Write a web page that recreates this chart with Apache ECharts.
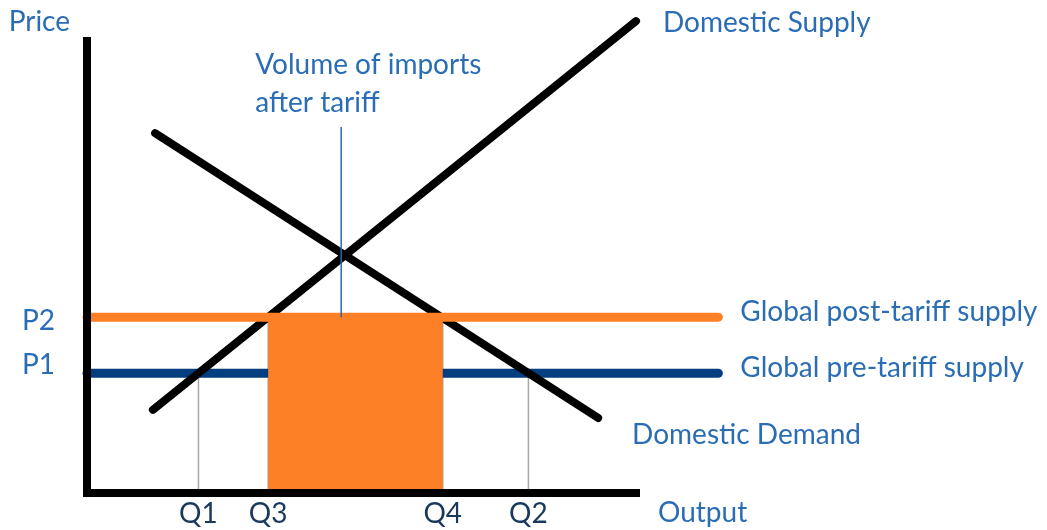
<!DOCTYPE html>
<html>
<head>
<meta charset="utf-8">
<script src="https://cdn.jsdelivr.net/npm/echarts@6/dist/echarts.min.js"></script>
<style>
  html, body { margin: 0; padding: 0; background: #ffffff; }
  #chart { width: 1047px; height: 530px; }
</style>
</head>
<body>
<div id="chart"></div>
<script>
// Price levels (world price before and after the tariff)
const priceNames = ['P1', 'P2'];
const priceValues = [26.5, 38.9];

// Quantities marked on the output axis
const qtyNames = ['Q1', 'Q3', 'Q4', 'Q2'];
const qtyValues = [20.3, 33.0, 64.8, 80.4];
// Price level each quantity is read from
const qtyPriceLevel = ['P1', 'P2', 'P2', 'P1'];

// Domestic curves as [output, price]
const supplyCurve = [[12.0, 18.4], [100.0, 104.4]];
const demandCurve = [[12.4, 79.6], [93.1, 16.6]];

// World supply lines run from the price axis to this output
const worldLineEnd = 115;

// Pointer to the import block: output and the price where it stops
const importsPointerX = 46.3;
const importsPointerTop = 81.0;

// Length of the drawn axes
const outputAxisEnd = 100;
const priceAxisEnd = 100;

// Text
const axisTitles = { price: 'Price', output: 'Output' };
const curveLabels = {
  supply: 'Domestic Supply',
  demand: 'Domestic Demand',
  post: 'Global post-tariff supply',
  pre: 'Global pre-tariff supply',
  imports: 'Volume of imports\nafter tariff'
};

const ORANGE = '#FD7F26';
const NAVY = '#033F80';
const TEXT_BLUE = '#2A6DB5';
const TEXT_DARK = '#18385E';
const FONT = 'Lato';
const FS = 28;

const priceOf = name => priceValues[priceNames.indexOf(name)];
const P1 = priceOf('P1');
const P2 = priceOf('P2');
const Q3 = qtyValues[qtyNames.indexOf('Q3')];
const Q4 = qtyValues[qtyNames.indexOf('Q4')];

function textAt(text, coord, pos, align) {
  return {
    symbol: 'circle',
    symbolSize: 0,
    silent: true,
    data: [{ coord: coord }],
    label: {
      show: true,
      formatter: text,
      position: pos,
      align: align || 'left',
      verticalAlign: 'middle',
      color: TEXT_BLUE,
      fontFamily: FONT,
      fontSize: FS,
      lineHeight: 38
    }
  };
}

function segment(points, z, lineStyle, markPoint) {
  const s = {
    type: 'line',
    z: z,
    clip: false,
    showSymbol: false,
    silent: true,
    data: points,
    lineStyle: lineStyle
  };
  if (markPoint) s.markPoint = markPoint;
  return s;
}

const series = [];

// Grey drop lines from the price levels to the output axis
qtyNames.forEach((name, i) => {
  const p = priceOf(qtyPriceLevel[i]);
  series.push(segment([[qtyValues[i], 0], [qtyValues[i], p]], 1,
    { color: '#A6A6A6', width: 1.5 }));
});

// Global pre-tariff supply (P1)
series.push(segment([[0, P1], [worldLineEnd, P1]], 2,
  { color: NAVY, width: 9, cap: 'round' },
  textAt(curveLabels.pre, [worldLineEnd, P1], [22, -5])));

// Domestic supply
series.push(segment(supplyCurve, 3,
  { color: '#000000', width: 8, cap: 'round' },
  textAt(curveLabels.supply, supplyCurve[1], [27, 2])));

// Domestic demand
series.push(segment(demandCurve, 3,
  { color: '#000000', width: 8, cap: 'round' },
  textAt(curveLabels.demand, demandCurve[1], [34, 17])));

// Import block between Q3 and Q4 up to P2
series.push({
  type: 'custom',
  z: 4,
  silent: true,
  data: [[Q3, Q4, P2]],
  renderItem: (params, api) => {
    const tl = api.coord([api.value(0), api.value(2)]);
    const br = api.coord([api.value(1), 0]);
    return {
      type: 'rect',
      shape: { x: tl[0], y: tl[1], width: br[0] - tl[0], height: br[1] - tl[1] },
      style: { fill: ORANGE }
    };
  }
});

// Global post-tariff supply (P2)
series.push(segment([[0, P2], [worldLineEnd, P2]], 5,
  { color: ORANGE, width: 9, cap: 'round' },
  textAt(curveLabels.post, [worldLineEnd, P2], [22, -5])));

// Pointer to the import block
series.push(segment([[importsPointerX, P2], [importsPointerX, importsPointerTop]], 5,
  { color: '#2F65A6', width: 1.5 },
  textAt(curveLabels.imports, [importsPointerX, importsPointerTop], [-86, -43])));

// Axes
series.push(segment([[0, 0], [0, priceAxisEnd]], 10,
  { color: '#000000', width: 8, cap: 'square' },
  textAt(axisTitles.price, [0, priceAxisEnd], [-17, -19], 'right')));
series.push(segment([[0, 0], [outputAxisEnd, 0]], 10,
  { color: '#000000', width: 8, cap: 'square' },
  textAt(axisTitles.output, [outputAxisEnd, 0], [22, 20])));

const option = {
  animation: false,
  backgroundColor: '#ffffff',
  grid: { left: 87, top: 18.4, width: 636.84, height: 474.6, containLabel: false },
  xAxis: {
    type: 'value',
    min: 0,
    max: 116,
    axisLine: { show: false },
    axisTick: { show: false },
    splitLine: { show: false },
    axisLabel: {
      show: true,
      customValues: qtyValues,
      margin: 7,
      color: TEXT_DARK,
      fontFamily: FONT,
      fontSize: FS,
      formatter: v => qtyNames[qtyValues.indexOf(v)] || ''
    }
  },
  yAxis: {
    type: 'value',
    min: 0,
    max: 105,
    axisLine: { show: false },
    axisTick: { show: false },
    splitLine: { show: false },
    axisLabel: {
      show: true,
      customValues: priceValues,
      margin: 32,
      align: 'right',
      formatter: v => {
        const name = priceNames[priceValues.indexOf(v)] || '';
        return name === 'P1' ? '{t|' + name + '}\n{gap| }' : '{gapS| }\n{t|' + name + '}';
      },
      rich: {
        t: { color: TEXT_BLUE, fontFamily: FONT, fontSize: FS, lineHeight: 28 },
        gap: { fontSize: 10, lineHeight: 16 },
        gapS: { fontSize: 6, lineHeight: 7 }
      }
    }
  },
  series: series
};

const chart = echarts.init(document.getElementById('chart'), null, { renderer: 'canvas' });
chart.setOption(option);
</script>
</body>
</html>
